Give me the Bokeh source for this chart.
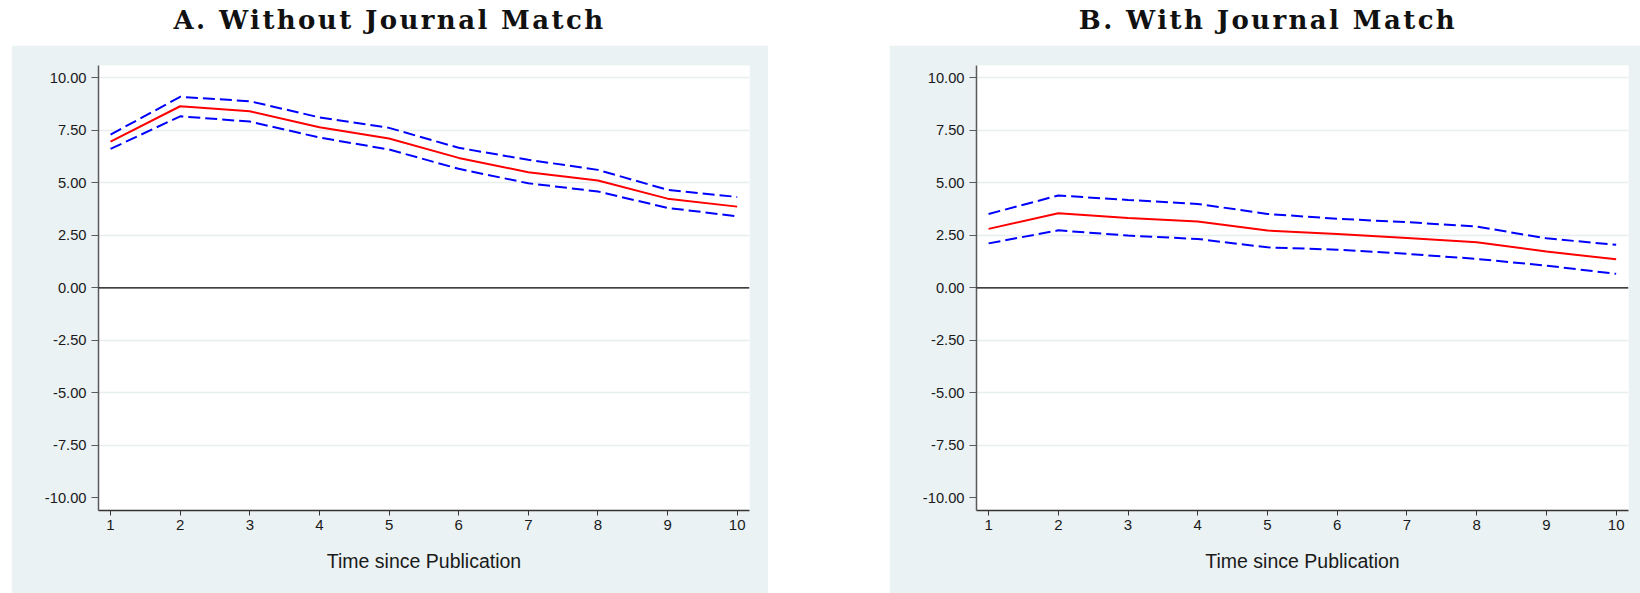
from bokeh.plotting import figure
from bokeh.models import Div, Spacer, FixedTicker, PrintfTickFormatter, Range1d, Span
from bokeh.layouts import row, column
from bokeh.embed import file_html
from bokeh.resources import INLINE

# ---- data ----
years = [1, 2, 3, 4, 5, 6, 7, 8, 9, 10]
a_est = [6.97, 8.65, 8.41, 7.65, 7.11, 6.19, 5.51, 5.11, 4.25, 3.87]
a_upper = [7.30, 9.10, 8.89, 8.12, 7.62, 6.67, 6.10, 5.62, 4.67, 4.33]
a_lower = [6.62, 8.17, 7.92, 7.16, 6.59, 5.67, 4.98, 4.59, 3.81, 3.41]
b_est = [2.81, 3.55, 3.33, 3.16, 2.73, 2.57, 2.38, 2.17, 1.73, 1.36]
b_upper = [3.52, 4.40, 4.19, 4.00, 3.52, 3.29, 3.13, 2.92, 2.36, 2.05]
b_lower = [2.12, 2.74, 2.49, 2.33, 1.93, 1.82, 1.62, 1.38, 1.06, 0.67]
y_ticks = [-10.0, -7.5, -5.0, -2.5, 0.0, 2.5, 5.0, 7.5, 10.0]
grid_ticks = [-7.5, -5.0, -2.5, 2.5, 5.0, 7.5, 10.0]
x_label = "Time since Publication"
title_a = "A. Without Journal Match"
title_b = "B. With Journal Match"

BG = "#EAF2F3"
SANS = "Liberation Sans"
FIG_H = 548


def make_panel(est, up, lo, width, mbl, mbr):
    p = figure(width=width, height=FIG_H, output_backend="svg", toolbar_location=None,
               x_range=Range1d(0.827, 10.177), y_range=Range1d(-10.6, 10.59),
               min_border_left=mbl, min_border_right=mbr, min_border_top=20,
               min_border_bottom=83)
    p.background_fill_color = "white"
    p.border_fill_color = BG
    p.outline_line_color = None

    p.xgrid.grid_line_color = None
    p.ygrid.ticker = FixedTicker(ticks=grid_ticks)
    p.ygrid.grid_line_color = "#E6EEF0"
    p.ygrid.grid_line_width = 1.5

    p.add_layout(Span(location=0, dimension="width", line_color="black", line_width=1.3))

    p.line(years, up, line_color="#0000FF", line_width=2, line_dash="12 5")
    p.line(years, lo, line_color="#0000FF", line_width=2, line_dash="12 5")
    p.line(years, est, line_color="#FF0000", line_width=2)

    ya = p.yaxis[0]
    ya.ticker = FixedTicker(ticks=y_ticks)
    ya.formatter = PrintfTickFormatter(format="%.2f")
    ya.minor_tick_line_color = None
    ya.major_tick_in = 0
    ya.major_tick_out = 7
    ya.major_label_standoff = 5
    ya.axis_line_color = "#5a5a5a"
    ya.axis_line_width = 1.5
    ya.major_tick_line_color = "#5a5a5a"
    ya.major_label_text_font = SANS
    ya.major_label_text_font_size = "14.7px"
    ya.major_label_text_color = "#1a1a1a"

    xa = p.xaxis[0]
    xa.ticker = FixedTicker(ticks=years)
    xa.minor_tick_line_color = None
    xa.major_tick_in = 0
    xa.major_tick_out = 5
    xa.major_label_standoff = 4
    xa.axis_line_color = "#333333"
    xa.axis_line_width = 1.5
    xa.major_tick_line_color = "#333333"
    xa.major_label_text_font = SANS
    xa.major_label_text_font_size = "15px"
    xa.major_label_text_color = "#1a1a1a"
    xa.axis_label = x_label
    xa.axis_label_text_font = SANS
    xa.axis_label_text_font_style = "normal"
    xa.axis_label_text_font_size = "19.5px"
    xa.axis_label_text_color = "#1a1a1a"
    xa.axis_label_standoff = 17
    return p


def make_title(text, width, indent):
    return Div(text=text, width=width, height=45, margin=0,
               styles={"font-family": "DejaVu Serif", "font-weight": "bold",
                       "font-size": "26px", "letter-spacing": "2.4px",
                       "text-align": "center", "line-height": "40px",
                       "text-indent": indent, "color": "#111111"})


pa = make_panel(a_est, a_upper, a_lower, 757, 87, 19)
pb = make_panel(b_est, b_upper, b_lower, 751, 87, 12)

layout = row(
    Spacer(width=11, height=FIG_H + 45),
    column(make_title(title_a, 757, "0px"), pa),
    Spacer(width=121, height=FIG_H + 45),
    column(make_title(title_b, 751, "7px"), pb),
)

open("out.html", "w").write(file_html(layout, INLINE))
